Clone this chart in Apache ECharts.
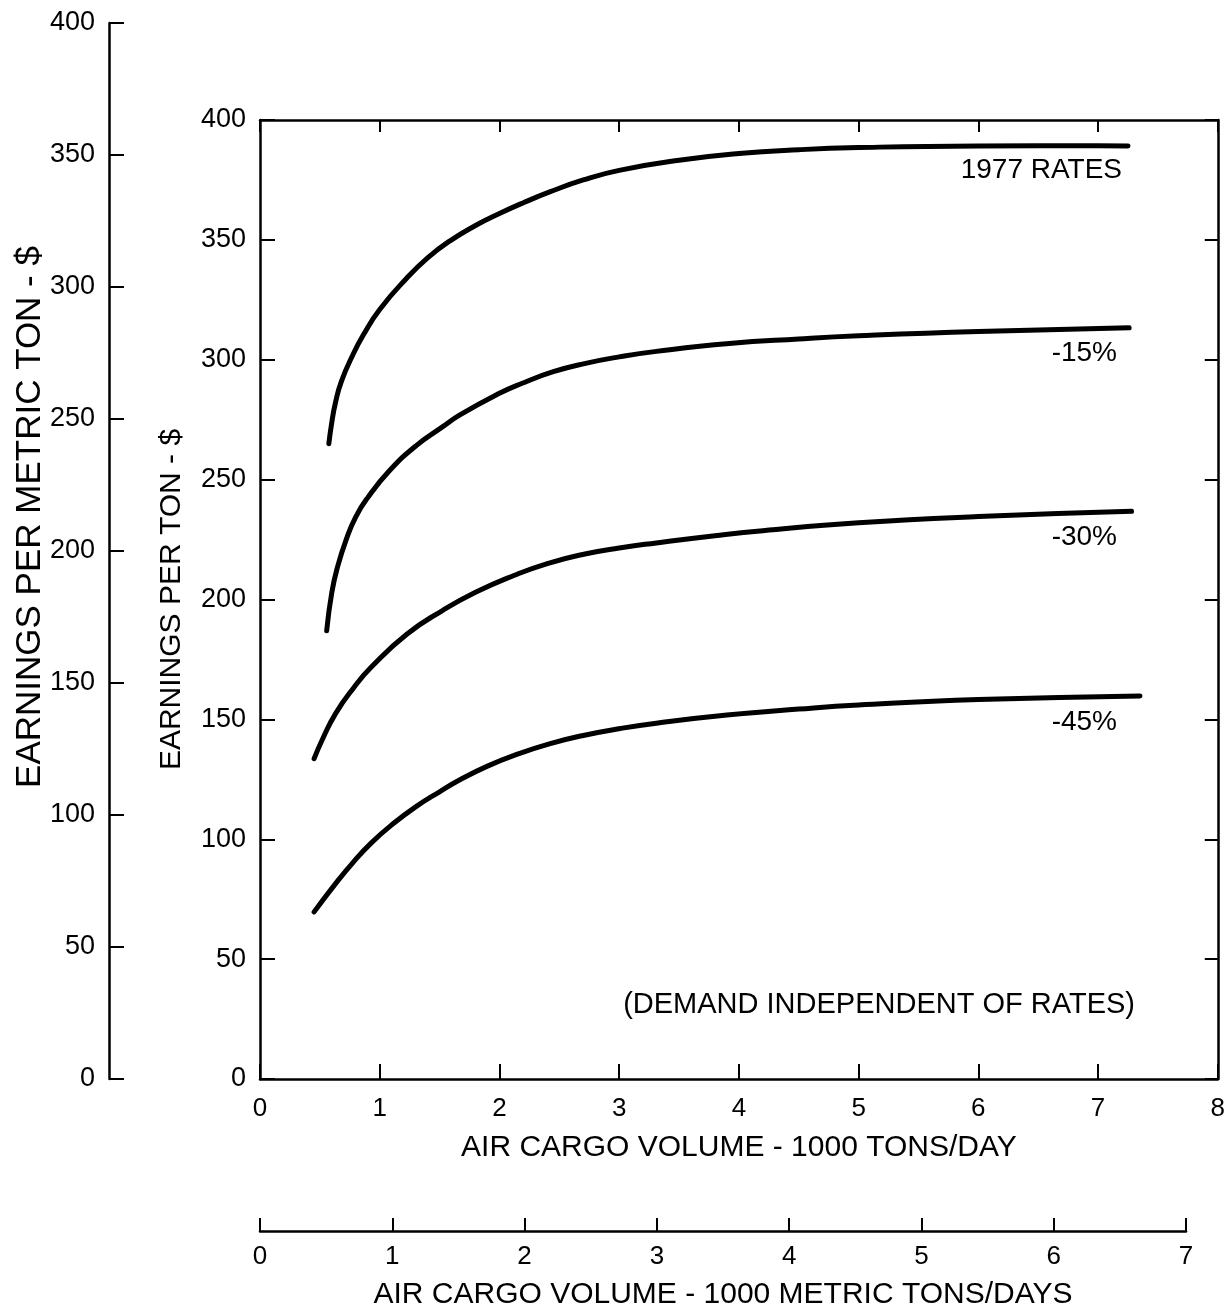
<!DOCTYPE html>
<html>
<head>
<meta charset="utf-8">
<script src="https://cdn.jsdelivr.net/npm/echarts@6/dist/echarts.min.js"></script>
<style>
  html, body { margin: 0; padding: 0; background: #fff; }
  #chart { width: 1228px; height: 1313px; }
</style>
</head>
<body>
<div id="chart"></div>
<script>
// Air cargo volume (1000 tons/day) and earnings per ton ($), one pair of arrays per rate case
const volume1977 = [0.575, 0.6, 0.63, 0.68, 0.78, 0.865, 1.0, 1.225, 1.4, 1.584, 1.8, 2.0, 2.2, 2.42, 2.7, 3.0, 3.5, 4.0, 4.5, 5.0, 6.0, 7.0, 7.25];
const earnings1977 = [265, 274, 282, 291, 302.5, 310.5, 321, 334, 342.5, 349.5, 356, 361, 365.5, 370, 375, 379, 383.2, 386, 387.6, 388.5, 389.2, 389.3, 389.2];

const volumeMinus15 = [0.557, 0.6, 0.65, 0.72, 0.8, 0.9, 1.077, 1.3, 1.524, 1.67, 2.0, 2.18, 2.45, 2.72, 3.0, 3.31, 3.92, 4.5, 5.0, 6.0, 7.26];
const earningsMinus15 = [187, 203, 214, 225, 234.5, 242.5, 253.5, 264, 272, 277, 286, 290, 295, 298.5, 301.2, 303.5, 306.8, 308.7, 310, 311.8, 313.3];

const volumeMinus30 = [0.452, 0.52, 0.631, 0.78, 0.93, 1.226, 1.524, 1.8, 2.12, 2.4, 2.714, 3.0, 3.31, 3.8, 4.2, 5.0, 6.0, 7.28];
const earningsMinus30 = [133.6, 141.5, 152.4, 163, 171.8, 185.5, 195.4, 203, 210, 215, 219, 221.5, 223.6, 226.6, 228.7, 232, 234.6, 236.8];

const volumeMinus45 = [0.452, 0.631, 0.78, 0.93, 1.1, 1.3, 1.5, 1.67, 1.9, 2.15, 2.417, 2.7, 3.01, 3.31, 3.9, 4.5, 5.0, 6.0, 7.35];
const earningsMinus45 = [69.7, 81.5, 90.5, 98.5, 106, 113.5, 119.8, 124.8, 130.5, 135.5, 139.8, 143.3, 146.2, 148.4, 151.8, 154.3, 156, 158.3, 159.8];

// Curve captions
const seriesNames = ['1977 RATES', '-15%', '-30%', '-45%'];
const noteText = '(DEMAND INDEPENDENT OF RATES)';

// Axis ranges
const tonsMax = 8;
const metricTonsMax = 7;
const earningsMax = 400;
const earningsStep = 50;

const FONT = '"Liberation Sans", Arial, sans-serif';
const INK = '#000';

function pairs(xs, ys) { return xs.map((x, i) => [x, ys[i]]); }

const chart = echarts.init(document.getElementById('chart'), null, { renderer: 'canvas' });

const axisLine = { show: true, onZero: false, lineStyle: { color: INK, width: 2.5 } };
const tickStyle = { color: INK, width: 2 };
const labelStyle = { color: INK, fontFamily: FONT };
const nameStyle = { color: INK, fontFamily: FONT, fontSize: 30 };

function curve(name, xs, ys) {
  return {
    name: name,
    type: 'line',
    xAxisIndex: 0,
    yAxisIndex: 0,
    data: pairs(xs, ys),
    smooth: 0.5,
    showSymbol: false,
    symbol: 'none',
    silent: true,
    lineStyle: { color: INK, width: 5, cap: 'round', join: 'round' }
  };
}

const captionBase = { fill: INK, font: '28px ' + FONT, align: 'right', verticalAlign: 'middle' };

chart.setOption({
  backgroundColor: '#fff',
  animation: false,
  grid: [
    { left: 260, top: 120, width: 960, height: 959 },   // main plot
    { left: 109, top: 23, width: 20, height: 1056 },    // metric earnings scale
    { left: 260, top: 1211, width: 926, height: 20 }    // metric volume scale
  ],
  xAxis: [
    {
      gridIndex: 0, type: 'value', min: 0, max: tonsMax, interval: 1, position: 'bottom',
      axisLine: axisLine,
      axisTick: { show: true, inside: true, length: 15, lineStyle: tickStyle },
      axisLabel: Object.assign({ margin: 17, fontSize: 26 }, labelStyle),
      splitLine: { show: false },
      name: 'AIR CARGO VOLUME - 1000 TONS/DAY',
      nameLocation: 'middle', nameGap: 54, nameTextStyle: nameStyle
    },
    {
      gridIndex: 0, type: 'value', min: 0, max: tonsMax, interval: 1, position: 'top',
      axisLine: axisLine,
      axisTick: { show: true, inside: true, length: 12, lineStyle: tickStyle },
      axisLabel: { show: false },
      splitLine: { show: false }
    },
    { gridIndex: 1, type: 'value', min: 0, max: 1, show: false },
    {
      gridIndex: 2, type: 'value', min: 0, max: metricTonsMax, interval: 1, position: 'bottom',
      axisLine: axisLine,
      axisTick: { show: true, inside: true, length: 13, lineStyle: tickStyle },
      axisLabel: Object.assign({ margin: 13, fontSize: 26 }, labelStyle),
      splitLine: { show: false },
      name: 'AIR CARGO VOLUME - 1000 METRIC TONS/DAYS',
      nameLocation: 'middle', nameGap: 49, nameTextStyle: nameStyle
    }
  ],
  yAxis: [
    {
      gridIndex: 0, type: 'value', min: 0, max: earningsMax, interval: earningsStep, position: 'left',
      axisLine: axisLine,
      axisTick: { show: true, inside: true, length: 15, lineStyle: tickStyle },
      axisLabel: Object.assign({ margin: 14, fontSize: 27 }, labelStyle),
      splitLine: { show: false },
      name: 'EARNINGS PER TON - $',
      nameLocation: 'middle', nameGap: 73, nameRotate: 90, nameTextStyle: nameStyle
    },
    {
      gridIndex: 0, type: 'value', min: 0, max: earningsMax, interval: earningsStep, position: 'right',
      axisLine: axisLine,
      axisTick: { show: true, inside: true, length: 13, lineStyle: tickStyle },
      axisLabel: { show: false },
      splitLine: { show: false }
    },
    {
      gridIndex: 1, type: 'value', min: 0, max: earningsMax, interval: earningsStep, position: 'left',
      axisLine: axisLine,
      axisTick: { show: true, inside: true, length: 15, lineStyle: tickStyle },
      axisLabel: Object.assign({ margin: 14, fontSize: 27 }, labelStyle),
      splitLine: { show: false }
    },
    { gridIndex: 2, type: 'value', min: 0, max: 1, show: false }
  ],
  series: [
    curve(seriesNames[0], volume1977, earnings1977),
    curve(seriesNames[1], volumeMinus15, earningsMinus15),
    curve(seriesNames[2], volumeMinus30, earningsMinus30),
    curve(seriesNames[3], volumeMinus45, earningsMinus45)
  ],
  graphic: [
    {
      type: 'text', x: 30, y: 517, rotation: Math.PI / 2, silent: true,
      style: { text: 'EARNINGS PER METRIC TON - $', fill: INK, font: '35px ' + FONT, align: 'center', verticalAlign: 'middle' }
    },
    { type: 'text', x: 1122, y: 170, silent: true, style: Object.assign({ text: seriesNames[0] }, captionBase) },
    { type: 'text', x: 1117, y: 353, silent: true, style: Object.assign({ text: seriesNames[1] }, captionBase) },
    { type: 'text', x: 1117, y: 537, silent: true, style: Object.assign({ text: seriesNames[2] }, captionBase) },
    { type: 'text', x: 1117, y: 722, silent: true, style: Object.assign({ text: seriesNames[3] }, captionBase) },
    { type: 'text', x: 1135, y: 1005, silent: true, style: Object.assign({}, captionBase, { text: noteText, font: '29px ' + FONT }) }
  ]
});
</script>
</body>
</html>
